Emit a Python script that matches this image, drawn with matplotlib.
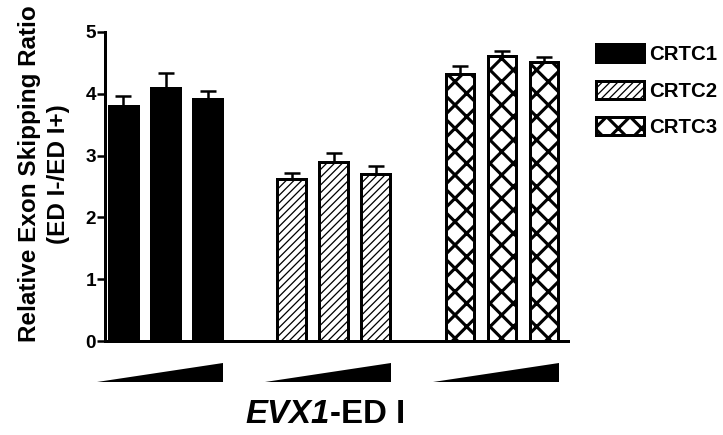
import matplotlib
matplotlib.use("Agg")
import matplotlib.pyplot as plt
import matplotlib.patches as mpatches
import numpy as np

# ---- data ----
series_names = ["CRTC1", "CRTC2", "CRTC3"]
crtc1_vals = [3.80, 4.10, 3.92]
crtc1_err = [0.17, 0.23, 0.13]
crtc2_vals = [2.62, 2.90, 2.71]
crtc2_err = [0.10, 0.15, 0.12]
crtc3_vals = [4.32, 4.61, 4.51]
crtc3_err = [0.13, 0.08, 0.08]
yticks = [0, 1, 2, 3, 4, 5]

DPI = 70
W, H = 723, 435
def pt(px):
    return px * 72.0 / DPI

plt.rcParams['font.family'] = ['Liberation Sans', 'DejaVu Sans']
plt.rcParams['font.weight'] = 'bold'

fig = plt.figure(figsize=(W / DPI, H / DPI), dpi=DPI)
ax = fig.add_axes([105 / W, (H - 341) / H, (568 - 105) / W, (341 - 32) / H])

styles = [
    dict(facecolor='black', hatch=None, hlw=1.0),
    dict(facecolor='white', hatch='///', hlw=1.3),
    dict(facecolor='white', hatch='x', hlw=3.2),
]
all_vals = [crtc1_vals, crtc2_vals, crtc3_vals]
all_err = [crtc1_err, crtc2_err, crtc3_err]
group_starts = [0, 4, 8]
bar_w = 0.67
edge_lw = pt(3)

handles = []
for gi, (vals, errs, st) in enumerate(zip(all_vals, all_err, styles)):
    x = np.arange(len(vals)) + group_starts[gi]
    bars = ax.bar(x, vals, width=bar_w, facecolor=st['facecolor'], edgecolor='black',
                  linewidth=edge_lw, hatch=st['hatch'], zorder=3)
    for b in bars:
        b.set_hatch_linewidth(st['hlw'])
    ax.errorbar(x, vals, yerr=[np.zeros(len(vals)), errs], fmt='none', ecolor='black',
                elinewidth=pt(2.5), capsize=pt(8), capthick=pt(2.5), zorder=2)
    h = mpatches.Patch(facecolor=st['facecolor'], edgecolor='black', linewidth=edge_lw,
                       hatch=st['hatch'], label=series_names[gi])
    h.set_hatch_linewidth(st['hlw'])
    handles.append(h)

    # increasing-dose wedge below each group
    x0 = group_starts[gi] - 0.63
    x1 = group_starts[gi] + 2.37
    ax.fill([x0, x1, x1], [-0.663, -0.663, -0.356], color='black', clip_on=False,
            linewidth=0)

ax.set_xlim(-0.44, 10.58)
ax.set_ylim(0, 5)
ax.set_yticks(yticks)
ax.set_xticks([])
for side in ['top', 'right']:
    ax.spines[side].set_visible(False)
for side in ['left', 'bottom']:
    ax.spines[side].set_linewidth(pt(3))
ax.tick_params(axis='y', length=pt(8), width=pt(2.5), pad=pt(1),
               labelsize=pt(19))
for lab in ax.get_yticklabels():
    lab.set_fontweight('bold')

# y label
fig.text(44 / W, 1 - 174 / H, "Relative Exon Skipping Ratio\n(ED I-/ED I+)",
         rotation=90, ha='center', va='center', multialignment='center',
         fontsize=pt(24.2), fontweight='bold', linespacing=1.3)

# x label
fig.text(330 / W, 1 - 423 / H, "EVX1", ha='right', va='baseline', fontsize=pt(33),
         fontweight='bold', fontstyle='italic')
fig.text(330 / W, 1 - 423 / H, "-ED I", ha='left', va='baseline', fontsize=pt(33),
         fontweight='bold')

leg = fig.legend(handles=handles, loc='upper left', bbox_to_anchor=(596 / W, 1 - 44 / H),
                 frameon=False, fontsize=pt(20.4), handlelength=48 / 20.4,
                 handleheight=20 / 20.4, handletextpad=0.25, labelspacing=0.82,
                 borderpad=0, borderaxespad=0)
for t in leg.get_texts():
    t.set_fontweight('bold')
for p, st in zip(leg.get_patches(), styles):
    p.set_hatch_linewidth(st['hlw'])

fig.savefig("out.png", dpi=DPI)
